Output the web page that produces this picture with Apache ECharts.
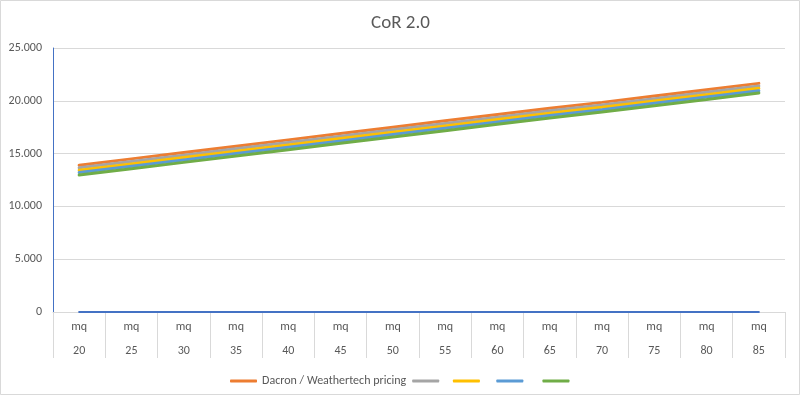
<!DOCTYPE html>
<html>
<head>
<meta charset="utf-8">
<script src="https://cdn.jsdelivr.net/npm/echarts@6/dist/echarts.min.js"></script>
<style>
  html, body { margin: 0; padding: 0; background: #fff; }
  #chart { width: 801px; height: 396px; }
</style>
</head>
<body>
<div id="chart"></div>
<script>
// categorie asse x (mq)
var sizes = ["20", "25", "30", "35", "40", "45", "50", "55", "60", "65", "70", "75", "80", "85"];
var unitLabel = "mq";

// serie
var baseSeries = [0, 0, 0, 0, 0, 0, 0, 0, 0, 0, 0, 0, 0, 0];
var dacron = [13900, 14500, 15100, 15700, 16300, 16900, 17500, 18100, 18700, 19300, 19850, 20450, 21050, 21650];
var grigio = [13650, 14250, 14850, 15450, 16050, 16650, 17250, 17850, 18450, 19050, 19600, 20200, 20800, 21400];
var giallo = [13420, 14020, 14620, 15220, 15820, 16420, 17020, 17620, 18220, 18820, 19380, 19980, 20580, 21180];
var blu = [13200, 13800, 14400, 15000, 15600, 16200, 16800, 17400, 18000, 18600, 19160, 19760, 20360, 20960];
var verde = [12970, 13570, 14170, 14770, 15370, 15970, 16570, 17170, 17770, 18370, 18930, 19530, 20130, 20740];

var yTicks = [0, 5000, 10000, 15000, 20000, 25000];

var font = "Carlito, 'Liberation Sans', 'Noto Sans', sans-serif";
var textColor = "#595959";

function fmt(v) {
  return v.toString().replace(/\B(?=(\d{3})+(?!\d))/g, ".");
}

function line(name, data, color, width) {
  return {
    name: name,
    type: "line",
    data: data,
    symbol: "none",
    lineStyle: { color: color, width: width, cap: "round" },
    itemStyle: { color: color },
    animation: false
  };
}

var chart = echarts.init(document.getElementById("chart"));
chart.setOption({
  backgroundColor: "#fff",
  textStyle: { fontFamily: font },
  title: {
    text: "CoR 2.0",
    left: "center",
    top: 9,
    textStyle: { fontFamily: font, fontSize: 19, fontWeight: "normal", color: textColor }
  },
  graphic: [{
    type: "rect",
    shape: { x: 0.5, y: 0.5, width: 799, height: 394 },
    style: { fill: "none", stroke: "#D9D9D9", lineWidth: 1 },
    silent: true
  }],
  grid: { left: 53, right: 16, top: 48, bottom: 84 },
  legend: {
    data: ["Dacron / Weathertech pricing", " ", "  ", "   ", "    "],
    left: 225,
    top: 370,
    itemWidth: 27,
    itemHeight: 3,
    itemGap: 6,
    icon: "roundRect",
    textStyle: { fontFamily: font, fontSize: 12, color: textColor }
  },
  xAxis: {
    type: "category",
    data: sizes,
    boundaryGap: true,
    axisLine: { show: true, lineStyle: { color: "#D9D9D9" } },
    axisTick: { show: true, interval: 0, alignWithLabel: false, length: 46, lineStyle: { color: "#D9D9D9" } },
    axisLabel: {
      interval: 0,
      margin: 3,
      lineHeight: 24,
      fontSize: 12,
      color: textColor,
      fontFamily: font,
      formatter: function (v) { return unitLabel + "\n" + v; }
    }
  },
  yAxis: {
    type: "value",
    min: yTicks[0],
    max: yTicks[yTicks.length - 1],
    interval: yTicks[1] - yTicks[0],
    axisLine: { show: true, lineStyle: { color: "#4472C4" } },
    axisTick: { show: false },
    splitLine: { lineStyle: { color: "#D9D9D9" } },
    axisLabel: {
      margin: 11,
      fontSize: 12,
      color: textColor,
      fontFamily: font,
      formatter: fmt
    }
  },
  series: [
    line("base", baseSeries, "#4472C4", 2),
    line("Dacron / Weathertech pricing", dacron, "#ED7D31", 3),
    line(" ", grigio, "#A5A5A5", 3),
    line("  ", giallo, "#FFC000", 3),
    line("   ", blu, "#5B9BD5", 3),
    line("    ", verde, "#70AD47", 3)
  ]
});
</script>
</body>
</html>
